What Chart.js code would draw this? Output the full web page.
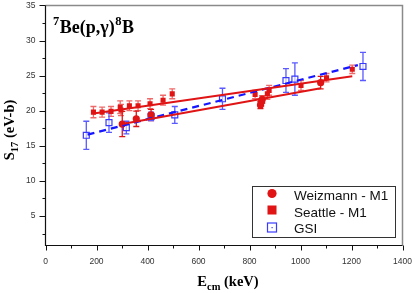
<!DOCTYPE html>
<html>
<head>
<meta charset="utf-8">
<script src="https://cdn.jsdelivr.net/npm/chart.js@4/dist/chart.umd.min.js"></script>
<style>
html,body{margin:0;padding:0;background:#fff;}
#wrap{width:415px;height:293px;position:relative;}
</style>
</head>
<body>
<div id="wrap"><canvas id="c" width="415" height="293"></canvas></div>
<script>
// ---- data ----
const seattleE   = [188, 222, 257, 293, 296, 329, 363, 410, 461, 497, 822, 870, 877, 1002, 1102, 1203];
const seattleS   = [19.8, 19.8, 19.9, 20.5, 20.1, 20.7, 20.7, 21.0, 21.5, 22.4, 22.3, 22.4, 22.9, 23.6, 24.7, 25.9];
const seattleErr = [0.8, 0.7, 0.7, 0.9, 0.8, 0.7, 0.7, 0.7, 0.7, 0.7, 0.6, 0.8, 0.7, 0.7, 0.6, 0.6];

const weizE   = [301, 356, 414, 843, 846, 850, 1079];
const weizS   = [18.1, 18.85, 19.4, 20.8, 21.2, 21.6, 24.0];
const weizErr = [1.8, 1.1, 0.8, 0.5, 0.5, 0.5, 0.9];

const gsiE   = [160, 249, 317, 414, 507, 694, 943, 978, 1245];
const gsiS   = [16.5, 18.3, 17.6, 19.2, 19.4, 21.7, 24.3, 24.5, 26.3];
const gsiErr = [2.0, 1.4, 0.9, 0.6, 1.2, 1.5, 1.7, 2.3, 2.0];

const seattleFitE = [188, 1203];
const seattleFitS = [19.6, 24.9];
const weizFitE    = [301, 1079];
const weizFitS    = [18.1, 23.2];
const gsiFitE     = [165, 1225];
const gsiFitS     = [16.6, 26.5];

const xTicks = [0,100,200,300,400,500,600,700,800,900,1000,1100,1200,1300,1400];
const yTicks = [2.5,5,7.5,10,12.5,15,17.5,20,22.5,25,27.5,30,32.5,35];

const legendLabels = ['Weizmann - M1', 'Seattle - M1', 'GSI'];

// ---- helpers ----
const pts = (xs, ys) => xs.map((x, i) => ({x: x, y: ys[i]}));
const RED = '#e01414';
const RED_LIGHT = '#ee6a6a';
const BLUE = '#1515ff';
const BLUE_M = '#3a3aff';
const BLUE_LIGHT = '#5a5aff';

const errorBars = {
  id: 'errorBars',
  beforeDatasetsDraw(chart) {
    const ctx = chart.ctx, xs = chart.scales.x, ys = chart.scales.y;
    chart.data.datasets.forEach(ds => {
      if (!ds.errors) return;
      ctx.save();
      ctx.strokeStyle = ds.errColor;
      ctx.lineWidth = 1.3;
      ds.data.forEach((p, i) => {
        const px = xs.getPixelForValue(p.x);
        const y1 = ys.getPixelForValue(p.y - ds.errors[i]);
        const y2 = ys.getPixelForValue(p.y + ds.errors[i]);
        ctx.beginPath();
        ctx.moveTo(px, y1); ctx.lineTo(px, y2);
        ctx.moveTo(px - 3, y1); ctx.lineTo(px + 3, y1);
        ctx.moveTo(px - 3, y2); ctx.lineTo(px + 3, y2);
        ctx.stroke();
      });
      ctx.restore();
    });
  }
};

const decor = {
  id: 'decor',
  afterDraw(chart) {
    const ctx = chart.ctx, a = chart.chartArea, xs = chart.scales.x, ys = chart.scales.y;
    ctx.save();
    // frame: top/right gray
    ctx.strokeStyle = '#8a8a8a';
    ctx.lineWidth = 1.5;
    ctx.beginPath();
    ctx.moveTo(a.left, a.top); ctx.lineTo(a.right, a.top); ctx.lineTo(a.right, a.bottom);
    ctx.stroke();
    // axes black
    ctx.strokeStyle = '#111';
    ctx.lineWidth = 1.2;
    ctx.beginPath();
    ctx.moveTo(a.left, a.top); ctx.lineTo(a.left, a.bottom); ctx.lineTo(a.right, a.bottom);
    ctx.stroke();
    // ticks
    ctx.lineWidth = 1;
    ctx.beginPath();
    xTicks.forEach(v => {
      const px = Math.round(xs.getPixelForValue(v)) + 0.5;
      const len = (v % 200 === 0) ? 5 : 3;
      ctx.moveTo(px, a.bottom); ctx.lineTo(px, a.bottom + len);
    });
    yTicks.forEach(v => {
      const py = Math.round(ys.getPixelForValue(v)) + 0.5;
      const len = (v % 5 === 0) ? 6 : 3;
      ctx.moveTo(a.left, py); ctx.lineTo(a.left - len, py);
    });
    ctx.stroke();

    // title 7Be(p,γ)8B
    ctx.fillStyle = '#000';
    ctx.textBaseline = 'alphabetic';
    ctx.textAlign = 'left';
    let x = 53;
    const big = 'bold 18px "Liberation Serif", "Times New Roman", serif';
    const sup = 'bold 12.5px "Liberation Serif", "Times New Roman", serif';
    ctx.font = sup; ctx.fillText('7', x, 25); x += ctx.measureText('7').width + 0.5;
    ctx.font = big; ctx.fillText('Be(p,γ)', x, 33); x += ctx.measureText('Be(p,γ)').width + 0.5;
    ctx.font = sup; ctx.fillText('8', x, 25); x += ctx.measureText('8').width + 0.5;
    ctx.font = big; ctx.fillText('B', x, 33);

    // x axis title E_cm (keV)
    const tf = 'bold 14.5px "Liberation Serif", "Times New Roman", serif';
    const sf = 'bold 10.5px "Liberation Serif", "Times New Roman", serif';
    ctx.font = tf; const wE = ctx.measureText('E').width;
    ctx.font = sf; const wcm = ctx.measureText('cm').width;
    ctx.font = tf; const wr = ctx.measureText(' (keV)').width;
    let sx = 228 - (wE + wcm + wr) / 2;
    ctx.font = tf; ctx.fillText('E', sx, 286); sx += wE;
    ctx.font = sf; ctx.fillText('cm', sx, 290); sx += wcm;
    ctx.font = tf; ctx.fillText(' (keV)', sx, 286);

    // y axis title S_17 (eV-b)
    ctx.save();
    ctx.translate(13.5, 130);
    ctx.rotate(-Math.PI / 2);
    ctx.font = tf; const wS = ctx.measureText('S').width;
    ctx.font = sf; const w17 = ctx.measureText('17').width;
    ctx.font = tf; const wy = ctx.measureText(' (eV-b)').width;
    let sy = -(wS + w17 + wy) / 2;
    ctx.font = tf; ctx.fillText('S', sy, 0); sy += wS;
    ctx.font = sf; ctx.fillText('17', sy, 4); sy += w17;
    ctx.font = tf; ctx.fillText(' (eV-b)', sy, 0);
    ctx.restore();

    // legend
    const L = 252.5, T = 186.5, R = 395.5, B = 237.5;
    ctx.fillStyle = '#fff';
    ctx.fillRect(L, T, R - L, B - T);
    ctx.strokeStyle = '#333';
    ctx.lineWidth = 1;
    ctx.strokeRect(L, T, R - L, B - T);
    ctx.fillStyle = RED;
    ctx.beginPath(); ctx.arc(272, 193.5, 4.6, 0, Math.PI * 2); ctx.fill();
    ctx.fillRect(267.5, 205.5, 9, 9);
    ctx.strokeStyle = BLUE_M; ctx.lineWidth = 1.2;
    ctx.strokeRect(267.5, 223, 9, 9);
    ctx.fillStyle = BLUE_M; ctx.fillRect(271.5, 227, 1.2, 1.2);
    ctx.fillStyle = '#111';
    ctx.font = '13.5px "Liberation Sans", Arial, sans-serif';
    ctx.fillText(legendLabels[0], 294, 200);
    ctx.fillText(legendLabels[1], 294, 216.5);
    ctx.fillText(legendLabels[2], 294, 233);
    ctx.restore();
  }
};

const tickFont = {family: '"Liberation Sans", Arial, sans-serif', size: 8.5};

new Chart(document.getElementById('c'), {
  type: 'scatter',
  data: {
    datasets: [
      {data: pts(seattleFitE, seattleFitS), showLine: true, borderColor: RED, borderWidth: 2, pointRadius: 0, fill: false},
      {data: pts(weizFitE, weizFitS), showLine: true, borderColor: RED, borderWidth: 2, pointRadius: 0, fill: false},
      {data: pts(gsiFitE, gsiFitS), showLine: true, borderColor: BLUE, borderWidth: 2.2, borderDash: [7, 5], pointRadius: 0, fill: false},
      {label: legendLabels[1], data: pts(seattleE, seattleS), errors: seattleErr, errColor: RED_LIGHT,
        pointStyle: 'rect', pointRadius: 3.6, backgroundColor: RED, borderColor: RED, borderWidth: 0},
      {label: legendLabels[0], data: pts(weizE, weizS), errors: weizErr, errColor: RED,
        pointStyle: 'circle', pointRadius: 3.6, backgroundColor: RED, borderColor: RED, borderWidth: 0},
      {label: legendLabels[2], data: pts(gsiE, gsiS), errors: gsiErr, errColor: BLUE_LIGHT,
        pointStyle: 'rect', pointRadius: 4.2, backgroundColor: 'rgba(255,255,255,0.6)', borderColor: BLUE_M, borderWidth: 1.2}
    ]
  },
  options: {
    responsive: false,
    animation: false,
    events: [],
    layout: {padding: {left: 0, right: 12.5, top: 5, bottom: 0}},
    plugins: {legend: {display: false}, tooltip: {enabled: false}},
    scales: {
      x: {
        type: 'linear', min: 0, max: 1400,
        grid: {display: false, drawTicks: false, tickLength: 0},
        border: {display: false},
        afterBuildTicks: s => { s.ticks = xTicks.map(v => ({value: v})); },
        afterFit: s => { s.height = 47.5; s.paddingLeft = 0; s.paddingRight = 0; },
        ticks: {
          autoSkip: false, maxRotation: 0, padding: 11,
          color: '#333', font: tickFont,
          callback: v => (v % 200 === 0 ? String(v) : '')
        }
      },
      y: {
        type: 'linear', min: 0.8, max: 35,
        grid: {display: false, drawTicks: false, tickLength: 0},
        border: {display: false},
        afterBuildTicks: s => { s.ticks = yTicks.map(v => ({value: v})); },
        afterFit: s => { s.width = 45.5; s.paddingTop = 0; s.paddingBottom = 0; },
        ticks: {
          autoSkip: false, padding: 10,
          color: '#333', font: tickFont,
          callback: v => (v % 5 === 0 ? String(v) : '')
        }
      }
    }
  },
  plugins: [errorBars, decor]
});
</script>
</body>
</html>
